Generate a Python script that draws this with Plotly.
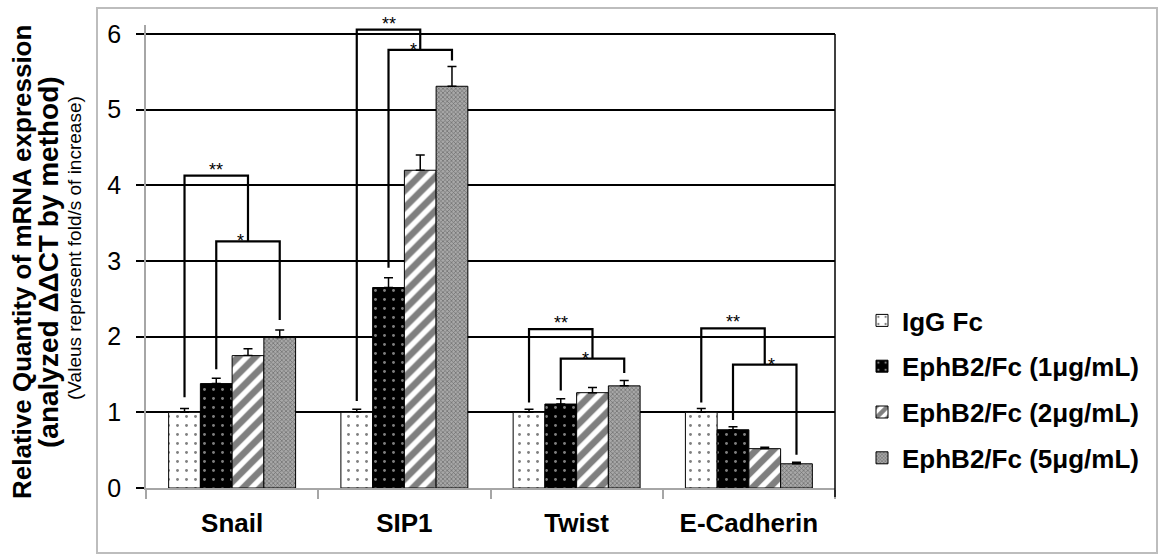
import plotly.graph_objects as go

# ---------------- data ----------------
categories = ["Snail", "SIP1", "Twist", "E-Cadherin"]
series_names = ["IgG Fc", "EphB2/Fc (1μg/mL)", "EphB2/Fc (2μg/mL)", "EphB2/Fc (5μg/mL)"]
igg_fc = [1.00, 1.00, 1.00, 1.00]
ephb2_1 = [1.38, 2.65, 1.11, 0.77]
ephb2_2 = [1.75, 4.20, 1.26, 0.52]
ephb2_5 = [1.99, 5.31, 1.35, 0.32]
err_igg = [0.05, 0.04, 0.04, 0.05]
err_1 = [0.07, 0.13, 0.07, 0.04]
err_2 = [0.09, 0.20, 0.07, 0.02]
err_5 = [0.10, 0.26, 0.07, 0.02]
y_ticks = [0, 1, 2, 3, 4, 5, 6]

# significance brackets (values in y units)
dbl_top = [4.13, 6.06, 2.10, 2.11]      # "**" bracket height
igg_leg_bottom = [1.20, 1.15, 1.13, 1.13]
sgl_top = [3.26, 5.79, 1.71, 1.63]      # "*" bracket height
s1_leg_bottom = [1.57, 2.91, 1.29, 0.90]
s3_leg_bottom = [2.22, 5.65, 1.52, 0.44]
star_side = [-1, -1, -1, 1]

values = [igg_fc, ephb2_1, ephb2_2, ephb2_5]
errors = [err_igg, err_1, err_2, err_5]

# ---------------- styling ----------------
FONT = "Liberation Sans, Arial, sans-serif"
W, H = 1165, 556
L, R, T, B = 146, 330, 25, 68
YMAX = 6.12
BARGAP = 0.263
plot_w = W - L - R
plot_h = H - T - B

patterns = [
    dict(color="white", pattern=dict(shape=".", fgcolor="black", bgcolor="white", size=9, solidity=0.08)),
    dict(color="black", pattern=dict(shape=".", fgcolor="white", bgcolor="black", size=9, solidity=0.08)),
    dict(color="white", pattern=dict(shape="/", fgcolor="black", bgcolor="white", size=12, solidity=0.55)),
    dict(color="#888888", pattern=dict(shape="x", fgcolor="#2e2e2e", bgcolor="#a8a8a8", size=3, solidity=0.4)),
]

fig = go.Figure()
for k in range(4):
    p = patterns[k]
    fig.add_trace(go.Bar(
        x=categories, y=values[k], name=series_names[k],
        legendgroup=f"g{k}",
        marker=dict(color=p["color"], pattern=p["pattern"], line=dict(color="black", width=1)),
        error_y=dict(type="data", array=errors[k], symmetric=False, arrayminus=[0] * 4,
                     color="black", thickness=1.5, width=4.5),
    ))

bar_w = (1 - BARGAP) / 4
def cx(cat, k):
    return cat + (k - 1.5) * bar_w

line_style = dict(color="black", width=2.2)
for i in range(len(categories)):
    x_igg = cx(i, 0)
    x_s1 = cx(i, 1)
    x_s3 = cx(i, 3)
    x_mid = (x_s1 + x_s3) / 2
    # "**" bracket
    fig.add_shape(type="path", xref="x", yref="y", line=line_style,
                  path=f"M {x_igg} {igg_leg_bottom[i]} L {x_igg} {dbl_top[i]} L {x_mid} {dbl_top[i]} L {x_mid} {sgl_top[i]}")
    # "*" bracket
    fig.add_shape(type="path", xref="x", yref="y", line=line_style,
                  path=f"M {x_s1} {s1_leg_bottom[i]} L {x_s1} {sgl_top[i]} L {x_s3} {sgl_top[i]} L {x_s3} {s3_leg_bottom[i]}")
    fig.add_annotation(x=(x_igg + x_mid) / 2, y=dbl_top[i], xref="x", yref="y", text="**",
                       showarrow=False, yanchor="bottom", yshift=-6,
                       font=dict(family=FONT, size=18, color="black"))
    fig.add_annotation(x=x_mid, y=sgl_top[i], xref="x", yref="y", text="*",
                       showarrow=False, yanchor="bottom", yshift=-12, xshift=7 * star_side[i],
                       font=dict(family=FONT, size=18, color="black"))

# outer gray border
def px_x(px):
    return (px - L) / plot_w
def px_y(py):
    return (H - B - py) / plot_h

fig.add_shape(type="rect", xref="paper", yref="paper",
              x0=px_x(97), x1=px_x(1157), y0=px_y(553), y1=px_y(8),
              line=dict(color="#bdbdbd", width=2), layer="below")
# right frame line
fig.add_shape(type="line", xref="paper", yref="paper",
              x0=1, x1=1, y0=px_y(497), y1=6 / YMAX,
              line=dict(color="black", width=1.5))

# y-axis title (three lines)
fig.add_annotation(xref="paper", yref="paper", x=px_x(22), y=px_y(262), text="<b>Relative Quantity of mRNA expression</b>",
                   textangle=-90, showarrow=False, xanchor="center", yanchor="middle",
                   font=dict(family=FONT, size=26, color="black"))
fig.add_annotation(xref="paper", yref="paper", x=px_x(48), y=px_y(262), text="<b>(analyzed ΔΔCT by method)</b>",
                   textangle=-90, showarrow=False, xanchor="center", yanchor="middle",
                   font=dict(family=FONT, size=28, color="black"))
fig.add_annotation(xref="paper", yref="paper", x=px_x(75), y=px_y(248), text="(Valeus represent fold/s of increase)",
                   textangle=-90, showarrow=False, xanchor="center", yanchor="middle",
                   font=dict(family=FONT, size=19, color="black"))

fig.update_layout(
    width=W, height=H,
    margin=dict(l=L, r=R, t=T, b=B, pad=0),
    paper_bgcolor="white", plot_bgcolor="white",
    barmode="group", bargap=BARGAP, bargroupgap=0,
    font=dict(family=FONT, color="black"),
    legend=dict(x=px_x(862), y=px_y(297), xanchor="left", yanchor="top",
                font=dict(family=FONT, size=26, color="black", weight="bold"),
                tracegroupgap=9, bgcolor="rgba(0,0,0,0)"),
    xaxis=dict(type="category", tickson="boundaries", ticks="outside", ticklen=9, tickwidth=1.5,
               tickcolor="#a6a6a6", showline=True, linecolor="#a6a6a6", linewidth=1.5,
               showgrid=False, tickfont=dict(family=FONT, size=26, color="black", weight="bold"),
               ticklabelstandoff=11),
    yaxis=dict(range=[0, YMAX], tickvals=y_ticks, ticks="outside", ticklen=8, tickwidth=1.5,
               tickcolor="black", showline=True, linecolor="#a6a6a6", linewidth=1.5,
               showgrid=True, gridcolor="black", gridwidth=1.5, zeroline=False,
               tickfont=dict(family=FONT, size=25, color="black"), ticklabelstandoff=10),
)

fig.write_html("out.html", config={"displayModeBar": False},
               post_script="document.body.style.margin='0px';")
